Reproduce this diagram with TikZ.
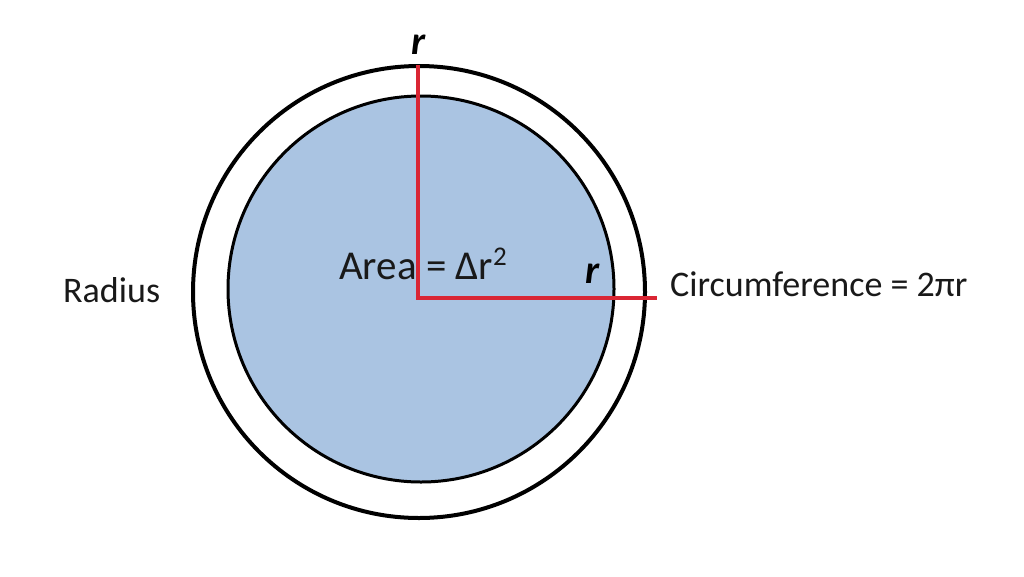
\documentclass[tikz,border=0pt]{standalone}
\usepackage{fontspec}
\setmainfont{Carlito}
\definecolor{fillblue}{RGB}{170,196,226}
\definecolor{redline}{RGB}{218,38,52}
\begin{document}
\begin{tikzpicture}[x=1pt,y=-1pt,
  ring/.style={circle,draw=black,inner sep=0pt,minimum size=#1},
  lbl/.style={font=\fontsize{36}{42}\selectfont,inner sep=0pt,text=black!90},
  rlbl/.style={font=\fontsize{40}{46}\selectfont\bfseries\itshape,inner sep=0pt},
  radline/.style={draw=redline,line width=3.5pt}]
\useasboundingbox[fill=white] (0,0) rectangle (1024,576);
\node[ring=452pt,line width=4pt] (outer) at (419,292) {};
\node[ring=386pt,line width=3pt,fill=fillblue] (inner) at (421,289) {};
\coordinate (c) at (418,298);
\coordinate (top) at (418,65);
\coordinate (right) at (657,298);
\draw[radline] (top) -- (c) -- (right);
\node[lbl,font=\fontsize{41}{46}\selectfont,anchor=base west] (area) at (339,279) {Area = Δr\raisebox{14pt}{\fontsize{27}{30}\selectfont 2}};
\node[lbl,anchor=base west] (radius) at (63,302) {Radius};
\node[lbl,anchor=base west] (circ) at (670,296) {Circumference = 2πr};
\node[rlbl,anchor=base] (rtop) at (419,54) {r};
\node[rlbl,anchor=base] (rright) at (593,283) {r};
\end{tikzpicture}
\end{document}
